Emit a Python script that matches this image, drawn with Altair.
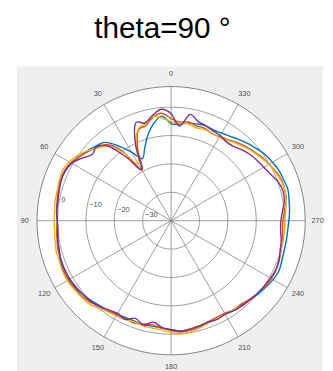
import altair as alt
import pandas as pd

TITLE = "theta=90 °"
ANGLES = list(range(0, 360, 5))
SERIES = ["s1", "s2", "s3", "s4"]
COLORS = ["#0072BD", "#D95319", "#EDB120", "#7E2F8E"]

BLUE = [-5.8, -3.0, -5.1, -8.6, -12.8, -15.9, -12.1, -7.9, -4.0, -2.7,
        -1.6, -0.6, 0.5, 1.2, 1.5, 1.2, 0.5, 0.5, 0.1, 0.1,
        0.5, 0.8, 1.5, 1.9, 1.5, 1.2, 0.5, -0.2, -0.9, -1.3,
        -2.0, -2.3, -2.3, -2.0, -2.3, -2.0, -1.6, -0.9, -0.9, -1.6,
        -2.0, -2.3, -2.0, -1.6, -1.3, -0.6, 0.1, 0.8, 1.5, 1.9,
        1.5, 1.2, 1.2, 1.2, 1.5, 1.9, 2.2, 2.6, 2.2, 1.9,
        1.2, 0.5, -0.6, -1.6, -2.7, -3.7, -4.4, -4.7, -4.4, -4.7,
        -5.1, -5.8]
ORANGE = [-4.0, -2.0, -3.0, -5.4, -6.1, -12.1, -19.4, -10.0, -5.1, -3.4,
          -2.0, -0.6, 0.8, 1.5, 1.5, 1.2, 0.8, 0.5, 0.1, 0.5,
          0.8, 1.2, 1.2, 1.5, 1.9, 1.5, 1.2, 0.5, -0.6, -1.3,
          -1.6, -2.0, -1.6, -2.3, -2.7, -2.0, -1.3, -0.6, -0.9, -1.3,
          -2.0, -2.3, -2.3, -1.6, -1.6, -0.9, -0.2, 0.5, 0.8, 0.8,
          0.5, 0.1, -0.2, -0.6, -0.6, 0.1, 1.2, 1.5, 1.5, 0.8,
          -0.2, -0.9, -2.0, -3.0, -4.0, -5.1, -5.8, -6.1, -5.4, -5.4,
          -4.7, -5.1]
YELLOW = [-5.1, -3.7, -2.7, -4.7, -5.8, -10.7, -17.0, -10.7, -5.8, -3.7,
          -1.6, 0.1, 1.5, 2.2, 1.9, 1.5, 1.5, 1.2, 1.2, 1.2,
          1.5, 1.9, 1.9, 2.2, 2.2, 1.9, 1.5, 1.2, 0.1, -0.9,
          -1.3, -1.6, -2.0, -1.6, -1.6, -1.3, -0.6, 0.1, -0.2, -0.9,
          -1.6, -2.0, -2.0, -1.6, -0.9, -0.6, -0.2, 0.1, 0.5, 0.8,
          0.5, 0.1, 0.1, 0.1, 0.1, 0.5, 1.2, 1.5, 1.2, 0.5,
          -0.2, -1.3, -2.3, -3.4, -4.4, -5.4, -6.1, -6.1, -5.8, -6.1,
          -5.4, -5.4]
PURPLE = [-2.3, -0.6, -2.3, -4.4, -3.4, -10.3, -19.1, -12.8, -5.8, -3.0,
          -3.7, -1.6, 0.5, 1.2, 1.2, 0.8, 0.5, 0.5, 0.1, 0.1,
          0.5, 0.8, 1.2, 1.2, 1.2, 0.8, 0.5, 0.1, -0.6, -1.6,
          -2.3, -1.6, -3.4, -2.0, -3.7, -2.3, -1.6, -0.9, -1.3, -1.6,
          -2.0, -1.6, -2.0, -1.3, -0.9, -0.6, -0.2, 0.1, 0.5, 0.8,
          0.5, -0.2, -0.6, -1.3, -1.3, -0.6, 0.5, 0.8, 0.1, -1.3,
          -2.3, -3.0, -3.7, -4.7, -5.8, -6.1, -5.4, -5.1, -4.4, -3.7,
          -2.0, -6.5]

THETA_TICKS = list(range(0, 360, 30))
R_TICKS = [-30, -20, -10, 0]
R_MIN = -40.0
R_MAX = 7.25
RTICK_ANGLE = 80

SPAN = R_MAX - R_MIN
W = 271
PX = W / (2 * SPAN)
LABEL_R = 148 / PX

XS = alt.Scale(domain=[-SPAN, SPAN], nice=False, zero=False)
YS = alt.Scale(domain=[-SPAN, SPAN], nice=False, zero=False)
X = alt.X("x:Q", scale=XS, axis=None)
Y = alt.Y("y:Q", scale=YS, axis=None)


def polar(chart, rexpr, aexpr):
    return chart.transform_calculate(
        x=f"-({rexpr}) * sin(({aexpr}) * PI / 180)",
        y=f"({rexpr}) * cos(({aexpr}) * PI / 180)",
    )


one = pd.DataFrame({"k": [1]})

bg = alt.Chart(one).mark_rect(color="#efefef").encode(
    x=alt.value(-20.3), x2=alt.value(288.7), y=alt.value(-20.5), y2=alt.value(300)
)

disk = alt.Chart(one).mark_arc(outerRadius=W / 2, innerRadius=0, color="white").encode(
    theta=alt.Theta("k:Q")
)

ring_grid = pd.DataFrame(
    [{"ring": r, "t": t} for r in R_TICKS for t in range(0, 360, 3)]
)
rings = polar(alt.Chart(ring_grid), f"datum.ring - ({R_MIN})", "datum.t").mark_line(
    interpolate="linear-closed", color="#858585", strokeWidth=0.8
).encode(x=X, y=Y, detail="ring:N", order="t:Q")

outer_grid = pd.DataFrame({"t": list(range(0, 360, 2))})
outer = polar(alt.Chart(outer_grid), f"{SPAN}", "datum.t").mark_line(
    interpolate="linear-closed", color="#777777", strokeWidth=0.9
).encode(x=X, y=Y, order="t:Q")

spokes_df = pd.DataFrame({"a": THETA_TICKS})
spokes = alt.Chart(spokes_df).transform_calculate(
    x="0", y="0",
    x2=f"-{SPAN} * sin(datum.a * PI / 180)",
    y2=f"{SPAN} * cos(datum.a * PI / 180)",
).mark_rule(color="#858585", strokeWidth=0.8).encode(
    x=X, y=Y, x2="x2:Q", y2="y2:Q"
)

rows = []
for name, vals in zip(SERIES, [BLUE, ORANGE, YELLOW, PURPLE]):
    for a, v in zip(ANGLES, vals):
        rows.append({"series": name, "angle": a, "value": v})
df = pd.DataFrame(rows)

series_layers = []
for name, col in zip(SERIES, COLORS):
    ch = alt.Chart(df).transform_filter(alt.datum.series == name)
    ch = polar(ch, f"datum.value - ({R_MIN})", "datum.angle").mark_line(
        interpolate="cardinal-closed", color=col, strokeWidth=1.4
    ).encode(x=X, y=Y, order="angle:Q")
    series_layers.append(ch)

alabels = polar(alt.Chart(spokes_df), f"{LABEL_R}", "datum.a").mark_text(
    fontSize=7.5, color="#4d4d4d", font="Liberation Sans", baseline="middle", align="center"
).encode(x=X, y=Y, text=alt.Text("a:Q", format="d"))

rt_df = pd.DataFrame({"r": R_TICKS})
rlabels = polar(alt.Chart(rt_df), f"datum.r - ({R_MIN})", f"{RTICK_ANGLE}").mark_text(
    fontSize=7.5, color="#4d4d4d", font="Liberation Sans", baseline="middle", align="left",
    dx=2, dy=-1
).encode(x=X, y=Y, text=alt.Text("r:Q", format="d"))

title = alt.Chart(one).mark_text(
    text=TITLE, fontSize=30, font="Liberation Sans", color="#000000",
    align="center", baseline="alphabetic"
).encode(x=alt.value(126.7), y=alt.value(-49.5))

chart = alt.layer(
    bg, disk, rings, spokes, outer, *series_layers, alabels, rlabels, title
).properties(
    width=W, height=W,
    autosize=alt.AutoSizeParams(type="none"),
    padding={"left": 29.3, "top": 77.5, "right": 20, "bottom": 16},
).configure_view(strokeWidth=0).configure(background="white")

chart.save("out.html", embed_options={"renderer": "svg", "actions": False})
